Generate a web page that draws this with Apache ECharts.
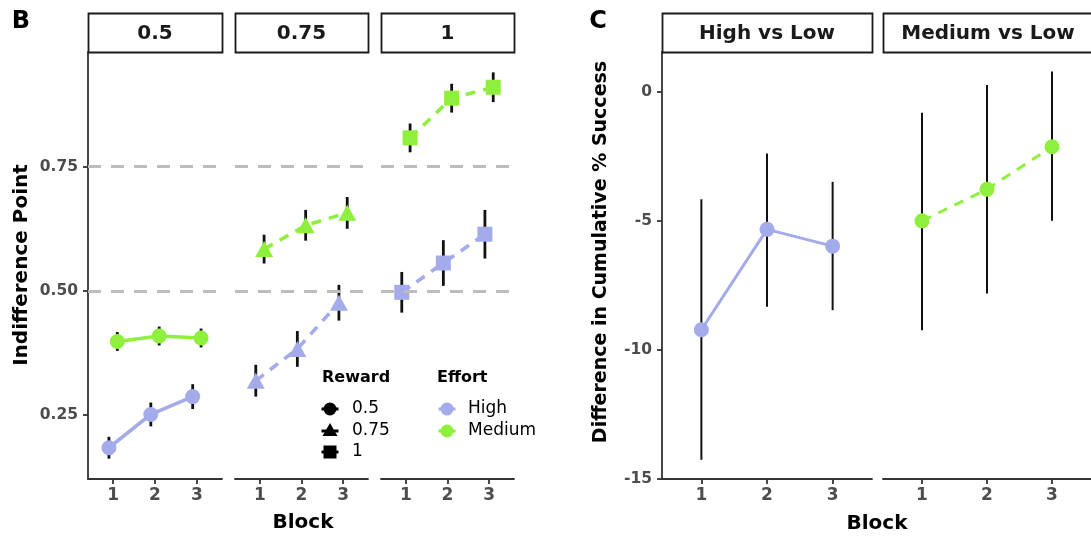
<!DOCTYPE html>
<html>
<head>
<meta charset="utf-8">
<script src="https://cdn.jsdelivr.net/npm/echarts@6/dist/echarts.min.js"></script>
<style>
  html, body { margin: 0; padding: 0; background: #ffffff; }
  #chart { width: 1091px; height: 539px; }
</style>
</head>
<body>
<div id="chart"></div>
<script>
// ---- data -------------------------------------------------------------
const blocks = [1, 2, 3];
const rewardLevels = ['0.5', '0.75', '1'];
const effortLevels = ['High', 'Medium'];
const contrastLabels = ['High vs Low', 'Medium vs Low'];

// Indifference point per block (mean and standard error), by reward level and effort
const highR05 = [0.184, 0.251, 0.287];
const highR05Se = [0.022, 0.024, 0.025];
const medR05 = [0.398, 0.409, 0.405];
const medR05Se = [0.019, 0.019, 0.019];

const highR075 = [0.319, 0.383, 0.476];
const highR075Se = [0.032, 0.036, 0.036];
const medR075 = [0.584, 0.632, 0.657];
const medR075Se = [0.029, 0.031, 0.032];

const highR1 = [0.497, 0.556, 0.614];
const highR1Se = [0.041, 0.046, 0.049];
const medR1 = [0.808, 0.888, 0.910];
const medR1Se = [0.029, 0.029, 0.030];

const refLines = [0.5, 0.75];
const ipTicks = [0.25, 0.5, 0.75];

// Difference in cumulative % success relative to low effort (estimate and interval)
const hvlMean = [-9.22, -5.33, -5.98];
const hvlLower = [-14.25, -8.33, -8.46];
const hvlUpper = [-4.16, -2.39, -3.49];
const mvlMean = [-5.0, -3.78, -2.13];
const mvlLower = [-9.24, -7.81, -5.0];
const mvlUpper = [-0.81, 0.26, 0.78];
const diffTicks = [-15, -10, -5, 0];

// ---- styling / layout -------------------------------------------------
const FONT = 'DejaVu Sans';
const HIGH_COL = '#a3abea';
const MED_COL = '#8ef03c';
const AXIS_COL = '#333333';
const TICK_TXT = '#4d4d4d';
const PANEL_TOP = 52, PANEL_H = 427;
const STRIP_TOP = 13, STRIP_H = 39;
const bLefts = [88, 235, 381], bWidths = [134, 133, 133];
const cLefts = [662, 883], cWidth = 210;
const DODGE = 0.1;
const IP_MIN = 0.121, IP_MAX = 0.981;
const DIFF_MIN = -15, DIFF_MAX = 1.54;

const grids = [];
const xAxes = [];
const yAxes = [];
const series = [];

function xAxisFor(i) {
  return {
    gridIndex: i, type: 'value', min: 0.4, max: 3.6,
    axisLine: { show: true, onZero: false, lineStyle: { color: AXIS_COL, width: 1.8 } },
    axisTick: { show: true, customValues: blocks, length: 5, lineStyle: { color: AXIS_COL, width: 1.8 } },
    axisLabel: { customValues: blocks, margin: 8, fontFamily: FONT, fontSize: 17,
                 fontWeight: 'bold', color: TICK_TXT },
    splitLine: { show: false }
  };
}

function yAxisFor(i, min, max, ticks, show, fmt) {
  return {
    gridIndex: i, type: 'value', min: min, max: max,
    axisLine: { show: show, onZero: false, lineStyle: { color: AXIS_COL, width: 1.8 } },
    axisTick: { show: show, customValues: ticks, length: 5, lineStyle: { color: AXIS_COL, width: 1.8 } },
    axisLabel: { show: show, customValues: ticks, margin: 10, fontFamily: FONT, fontSize: 15.5,
                 fontWeight: 'bold', color: TICK_TXT, formatter: fmt },
    splitLine: { show: false }
  };
}

function errorBars(idx, xs, lower, upper, width) {
  return {
    type: 'custom', xAxisIndex: idx, yAxisIndex: idx, z: 2, silent: true,
    data: xs.map((x, k) => [x, lower[k], upper[k]]),
    encode: { x: 0, y: [1, 2] },
    renderItem: (params, api) => {
      const a = api.coord([api.value(0), api.value(1)]);
      const b = api.coord([api.value(0), api.value(2)]);
      return {
        type: 'line',
        shape: { x1: a[0], y1: a[1], x2: b[0], y2: b[1] },
        style: { stroke: '#111111', lineWidth: width }
      };
    }
  };
}

function pointLine(idx, name, xs, ys, color, symbol, size, dash, lw) {
  return {
    type: 'line', name: name, xAxisIndex: idx, yAxisIndex: idx, z: 3, silent: true,
    data: xs.map((x, k) => [x, ys[k]]),
    symbol: symbol, symbolSize: size, showSymbol: true,
    itemStyle: { color: color, opacity: 1 },
    lineStyle: { color: color, width: lw, type: dash || 'solid' }
  };
}

// ---- panel B: three reward facets ----
const bHigh = [highR05, highR075, highR1];
const bHighSe = [highR05Se, highR075Se, highR1Se];
const bMed = [medR05, medR075, medR1];
const bMedSe = [medR05Se, medR075Se, medR1Se];
const bSymbols = ['circle', 'triangle', 'rect'];
const bSizes = [15, [18, 16], 15];
const bDash = [null, [10, 8], [10, 8]];

rewardLevels.forEach((lvl, i) => {
  grids.push({ left: bLefts[i], top: PANEL_TOP, width: bWidths[i], height: PANEL_H });
  xAxes.push(xAxisFor(i));
  yAxes.push(yAxisFor(i, IP_MIN, IP_MAX, ipTicks, i === 0, v => v.toFixed(2)));

  // dashed reference lines
  series.push({
    type: 'line', xAxisIndex: i, yAxisIndex: i, z: 1, silent: true, data: [],
    markLine: {
      silent: true, symbol: 'none', label: { show: false }, animation: false,
      lineStyle: { color: '#bdbdbd', width: 3, type: [13, 10] },
      data: refLines.map(v => ({ yAxis: v }))
    }
  });

  const xh = blocks.map(b => b - DODGE);
  const xm = blocks.map(b => b + DODGE);
  series.push(errorBars(i, xh, bHigh[i].map((v, k) => v - bHighSe[i][k]),
                        bHigh[i].map((v, k) => v + bHighSe[i][k]), 2.8));
  series.push(errorBars(i, xm, bMed[i].map((v, k) => v - bMedSe[i][k]),
                        bMed[i].map((v, k) => v + bMedSe[i][k]), 2.8));
  series.push(pointLine(i, 'High', xh, bHigh[i], HIGH_COL, bSymbols[i], bSizes[i], bDash[i], 3.6));
  series.push(pointLine(i, 'Medium', xm, bMed[i], MED_COL, bSymbols[i], bSizes[i], bDash[i], 3.6));
});

// ---- panel C: contrasts against low effort ----
const cMean = [hvlMean, mvlMean];
const cLower = [hvlLower, mvlLower];
const cUpper = [hvlUpper, mvlUpper];
const cCols = [HIGH_COL, MED_COL];
const cDash = [null, [10, 8]];

contrastLabels.forEach((lab, j) => {
  const i = 3 + j;
  grids.push({ left: cLefts[j], top: PANEL_TOP, width: cWidth, height: PANEL_H });
  xAxes.push(xAxisFor(i));
  yAxes.push(yAxisFor(i, DIFF_MIN, DIFF_MAX, diffTicks, j === 0, v => String(v)));
  series.push(errorBars(i, blocks, cLower[j], cUpper[j], 2));
  series.push(pointLine(i, lab, blocks, cMean[j], cCols[j], 'circle', 15, cDash[j], 3));
});

// ---- strips, titles and legend ----
const graphic = [];
function strip(x, w, label) {
  graphic.push({
    type: 'rect', shape: { x: x + 0.5, y: STRIP_TOP + 0.5, width: w, height: STRIP_H },
    style: { fill: '#ffffff', stroke: '#1a1a1a', lineWidth: 1.8 }, z: 10
  });
  graphic.push({
    type: 'text', x: x + w / 2, y: STRIP_TOP + STRIP_H / 2 + 1, z: 11,
    style: { text: label, fontFamily: FONT, fontSize: 20, fontWeight: 'bold', fill: '#1a1a1a',
             align: 'center', verticalAlign: 'middle' }
  });
}
rewardLevels.forEach((lvl, i) => strip(bLefts[i], bWidths[i], lvl));
contrastLabels.forEach((lab, j) => strip(cLefts[j], cWidth, lab));

function label(text, x, y, size, weight, rot, color) {
  graphic.push({
    type: 'text', x: x, y: y, rotation: rot || 0, z: 11,
    style: { text: text, fontFamily: FONT, fontSize: size, fontWeight: weight, fill: color || '#000',
             align: 'center', verticalAlign: 'middle' }
  });
}
label('B', 21, 22, 24, 'bold');
label('C', 598, 22, 24, 'bold');
label('Indifference Point', 22, 265, 20, 'bold', Math.PI / 2);
label('Difference in Cumulative % Success', 601, 252, 19, 'bold', Math.PI / 2);
label('Block', 303, 523, 20, 'bold');
label('Block', 877, 524, 20, 'bold');

// legend: reward shapes and effort colours
function legendText(text, x, y, bold) {
  graphic.push({
    type: 'text', x: x, y: y, z: 11,
    style: { text: text, fontFamily: FONT, fontSize: bold ? 16 : 17, fontWeight: bold ? 'bold' : 'normal',
             fill: '#000', align: 'left', verticalAlign: 'middle' }
  });
}
function legendBar(cx, cy, color) {
  graphic.push({ type: 'line', z: 11, shape: { x1: cx - 8.5, y1: cy, x2: cx + 8.5, y2: cy },
                 style: { stroke: color, lineWidth: 3 } });
}
const legRows = [409, 431, 452];
legendText('Reward', 322, 378, true);
rewardLevels.forEach((lvl, k) => {
  const cx = 330, cy = legRows[k];
  legendBar(cx, cy, '#000');
  if (bSymbols[k] === 'circle') {
    graphic.push({ type: 'circle', z: 12, shape: { cx: cx, cy: cy, r: 6.5 }, style: { fill: '#000' } });
  } else if (bSymbols[k] === 'triangle') {
    graphic.push({ type: 'polygon', z: 12,
                   shape: { points: [[cx, cy - 8], [cx - 7.5, cy + 5], [cx + 7.5, cy + 5]] }, style: { fill: '#000' } });
  } else {
    graphic.push({ type: 'rect', z: 12, shape: { x: cx - 6.5, y: cy - 6.5, width: 13, height: 13 },
                   style: { fill: '#000' } });
  }
  legendText(lvl, 352, cy, false);
});
legendText('Effort', 437, 378, true);
effortLevels.forEach((eff, k) => {
  const cx = 447, cy = legRows[k];
  const col = k === 0 ? HIGH_COL : MED_COL;
  legendBar(cx, cy, col);
  graphic.push({ type: 'circle', z: 12, shape: { cx: cx, cy: cy, r: 6.5 }, style: { fill: col } });
  legendText(eff, 468, cy, false);
});

const chart = echarts.init(document.getElementById('chart'), null, { renderer: 'canvas' });
chart.setOption({
  animation: false,
  backgroundColor: '#ffffff',
  grid: grids,
  xAxis: xAxes,
  yAxis: yAxes,
  series: series,
  graphic: graphic
});
</script>
</body>
</html>
